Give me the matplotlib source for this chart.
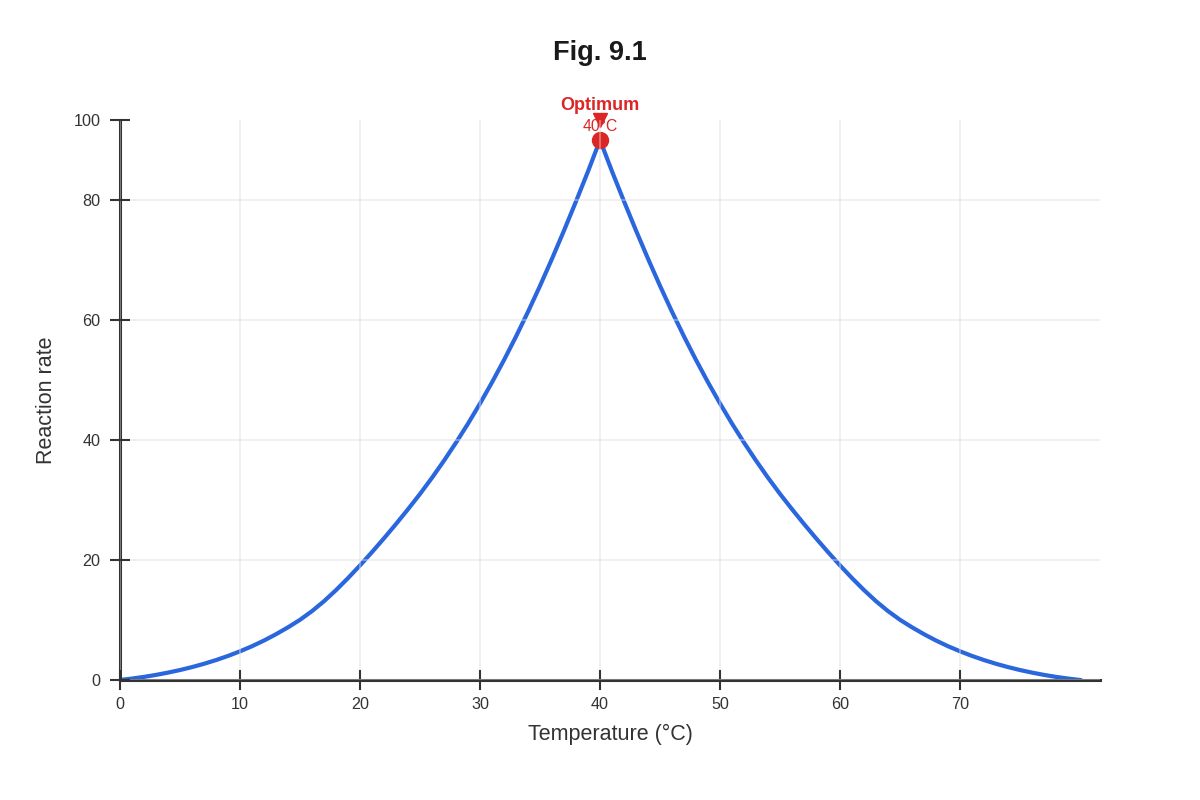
import matplotlib
matplotlib.use("Agg")
import matplotlib.pyplot as plt

plt.rcParams["font.family"] = ["Liberation Sans", "DejaVu Sans"]

# curve, one reading per degree (0..80 degC)
temps = list(range(0, 81))
rates = [0, 0.24, 0.52, 0.85, 1.23, 1.66, 2.15, 2.70, 3.32, 4.01,
         4.78, 5.63, 6.58, 7.63, 8.78, 10.03, 11.48, 13.13, 14.98, 16.98,
         19.10, 21.32, 23.62, 26.0, 28.46, 31.01, 33.71, 36.56, 39.56, 42.73,
         46.08, 49.61, 53.33, 57.25, 61.37, 65.69, 70.21, 74.91, 79.77, 84.77,
         90.0,
         84.77, 79.77, 74.91, 70.21, 65.69, 61.37, 57.25, 53.33, 49.61, 46.08,
         42.73, 39.56, 36.56, 33.71, 31.01, 28.46, 26.0, 23.62, 21.32, 19.10,
         16.98, 14.98, 13.13, 11.48, 10.03, 8.78, 7.63, 6.58, 5.63, 4.78,
         4.01, 3.32, 2.70, 2.15, 1.66, 1.23, 0.85, 0.52, 0.24, 0]

x_ticks = [0, 10, 20, 30, 40, 50, 60, 70]
y_ticks = [0, 20, 40, 60, 80, 93.333]
y_tick_labels = ["0", "20", "40", "60", "80", "100"]

opt_temp = 40
opt_rate = 90

x_max = 81.667
y_max = 93.333

fig = plt.figure(figsize=(12, 8), dpi=100)
ax = fig.add_axes([0.1, 0.15, 0.8167, 0.70])

ax.plot(temps, rates, color="#2a66dd", lw=3, solid_joinstyle="round", zorder=2)
ax.plot([opt_temp], [opt_rate], "o", color="#dc2626", ms=11.5, zorder=2.1, clip_on=False)
ax.plot([opt_temp], [opt_rate + 3.4], "v", color="#dc2626", ms=10, zorder=2.1, clip_on=False)
ax.text(opt_temp, opt_rate + 5.7, "Optimum", color="#dc2626", fontsize=13, fontweight="bold",
        ha="center", va="center")
ax.text(opt_temp, opt_rate + 2.2, "40°C", color="#dc2626", fontsize=11.3,
        ha="center", va="center", zorder=2.05)

ax.set_xlim(0, x_max)
ax.set_ylim(0, y_max)
ax.set_xticks(x_ticks)
ax.set_yticks(y_ticks)
ax.set_yticklabels(y_tick_labels)

ax.set_axisbelow(False)
ax.grid(True, color="#dddddd", alpha=0.5, lw=1.2)
ax.get_ygridlines()[-1].set_visible(False)

for s in ["top", "right"]:
    ax.spines[s].set_visible(False)
for s in ["left", "bottom"]:
    ax.spines[s].set_color("#333333")
    ax.spines[s].set_linewidth(2.2)

ax.tick_params(direction="inout", length=14, width=1.5, color="#333333",
               labelsize=11.6, labelcolor="#333333")
ax.tick_params(axis="x", pad=5)
ax.tick_params(axis="y", pad=7)

ax.set_xlabel("Temperature (°C)", fontsize=15.5, color="#333333", labelpad=9)
ax.set_ylabel("Reaction rate", fontsize=15.5, color="#333333", labelpad=12)
fig.suptitle("Fig. 9.1", fontsize=19.5, fontweight="bold", color="#1a1a1a", y=0.95)

fig.savefig("out.png", dpi=100, facecolor="white")
